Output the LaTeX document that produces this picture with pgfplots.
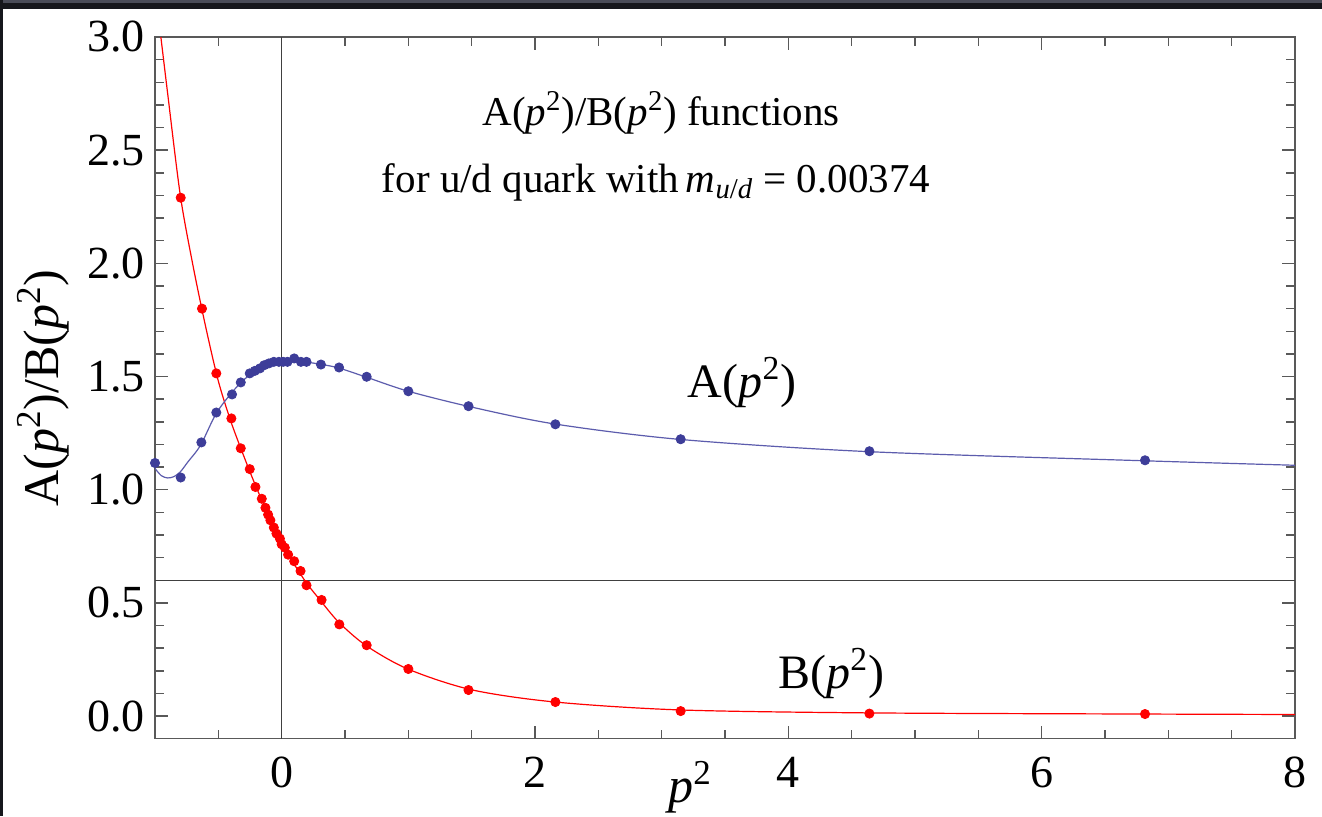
\documentclass[border=0pt]{standalone}
\usepackage{pgfplots}
\pgfplotsset{compat=1.18}
\usepackage{fontspec}
\setmainfont{Liberation Serif}
\newfontfamily\tnr{Liberation Serif}
\definecolor{mblue}{rgb}{0.24,0.24,0.6}
\definecolor{mline}{rgb}{0.36,0.36,0.68}
\definecolor{mframe}{gray}{0.35}
\definecolor{topdark}{HTML}{16171C}
\definecolor{toplight}{HTML}{4A4C58}
\newcommand{\psq}{\textit{p}\textsuperscript{2}}
\begin{document}
\begin{tikzpicture}
\useasboundingbox (0pt,0pt) rectangle (661pt,408pt);
\fill[white] (0pt,0pt) rectangle (661pt,408pt);
\fill[topdark] (0pt,403.5pt) rectangle (661pt,408pt);
\fill[toplight] (0pt,406.5pt) rectangle (661pt,408pt);
\fill[topdark] (0pt,0pt) rectangle (1.5pt,408pt);
\begin{axis}[
  at={(77.5pt,38.65pt)}, anchor=south west,
  scale only axis, width=570pt, height=350.85pt,
  xmin=-1, xmax=8, ymin=-0.1, ymax=3.0,
  axis line style={mframe, line width=0.7pt},
  tick style={mframe, line width=0.7pt},
  tick align=inside,
  major tick length=6.5pt, minor tick length=4.5pt,
  xtick={0,2,4,6,8},
  minor xtick={-0.5,0.5,1,1.5,2.5,3,3.5,4.5,5,5.5,6.5,7,7.5},
  ytick={0,0.5,1,1.5,2,2.5,3},
  minor ytick={0.1,0.2,0.3,0.4,0.6,0.7,0.8,0.9,1.1,1.2,1.3,1.4,1.6,1.7,1.8,1.9,2.1,2.2,2.3,2.4,2.6,2.7,2.8,2.9},
  /pgf/number format/assume math mode=true,
  yticklabel style={/pgf/number format/fixed, /pgf/number format/fixed zerofill, /pgf/number format/precision=1, xshift=-5pt},
  ticklabel style={font=\tnr\fontsize{23}{27}\selectfont, inner sep=0pt},
  xticklabel style={yshift=-9pt},
  clip=true,
]
\draw[black!75, line width=0.6pt] (axis cs:0,-0.1) -- (axis cs:0,3.0);
\draw[black!75, line width=0.6pt] (axis cs:-1,0.6) -- (axis cs:8,0.6);

% B curve
\addplot[red, line width=0.6pt, smooth, no markers] coordinates {
(-0.96,3.03) (-0.9,2.75) (-0.8,2.30) (-0.7,1.99) (-0.6,1.72) (-0.5,1.48)
(-0.4,1.30) (-0.3,1.15) (-0.2,1.01) (-0.1,0.885) (0,0.765) (0.1,0.67)
(0.2,0.585) (0.3,0.515) (0.45,0.415) (0.67,0.31) (1.0,0.207) (1.5,0.116)
(2.16,0.062) (3.15,0.027) (4.64,0.014) (6.8,0.009) (8,0.007)};
% A curve
\addplot[mline, line width=0.6pt, smooth, no markers] coordinates {
(-1,1.094) (-0.95,1.062) (-0.9,1.052) (-0.85,1.058) (-0.8,1.079) (-0.74,1.123)
(-0.64,1.197) (-0.52,1.334) (-0.4,1.425) (-0.3,1.485) (-0.2,1.527) (-0.1,1.553)
(0,1.565) (0.1,1.567) (0.2,1.563) (0.3,1.555) (0.45,1.538) (0.67,1.497)
(1.0,1.435) (1.5,1.365) (2.16,1.29) (3.15,1.222) (4.64,1.168) (6.8,1.128) (8,1.108)};
% B points
\addplot[red, only marks, mark=*, mark size=2.3pt, mark options={draw=red, fill=red}] coordinates {
(-0.797,2.29) (-0.629,1.80) (-0.516,1.514) (-0.397,1.315) (-0.323,1.183) (-0.252,1.091)
(-0.207,1.012) (-0.157,0.960) (-0.128,0.920) (-0.107,0.890) (-0.089,0.865) (-0.062,0.833)
(-0.041,0.806) (-0.014,0.784) (0.0,0.759) (0.025,0.744) (0.051,0.713) (0.099,0.684)
(0.149,0.641) (0.196,0.578) (0.315,0.513) (0.455,0.405) (0.671,0.313) (1.0,0.208)
(1.475,0.115) (2.161,0.062) (3.15,0.022) (4.64,0.011) (6.816,0.009)};
% A points
\addplot[mblue, only marks, mark=*, mark size=2.3pt, mark options={draw=mblue, fill=mblue}] coordinates {
(-1.0,1.118) (-0.797,1.054) (-0.634,1.209) (-0.516,1.341) (-0.392,1.421) (-0.323,1.474)
(-0.252,1.514) (-0.212,1.525) (-0.172,1.536) (-0.138,1.550) (-0.101,1.558) (-0.062,1.565)
(-0.022,1.565) (0.012,1.565) (0.046,1.565) (0.099,1.580) (0.152,1.565) (0.196,1.565)
(0.310,1.553) (0.453,1.540) (0.671,1.499) (1.0,1.435) (1.475,1.369) (2.161,1.289)
(3.15,1.223) (4.64,1.170) (6.816,1.130)};

\node[anchor=base, inner sep=0pt, font=\tnr\fontsize{20.5}{24}\selectfont] at (axis cs:2.996,2.609)
  {A(\psq)/B(\psq) functions};
\node[anchor=base, inner sep=0pt, font=\tnr\fontsize{20.5}{24}\selectfont] at (axis cs:2.956,2.313)
  {for u/d quark with\,\textit{m}\textsubscript{\textit{u}/\textit{d}} = 0.00374};
\node[anchor=base, inner sep=0pt, font=\tnr\fontsize{24}{28}\selectfont] at (axis cs:3.635,1.408) {A(\psq)};
\node[anchor=base, inner sep=0pt, font=\tnr\fontsize{24}{28}\selectfont] at (axis cs:4.338,0.121) {B(\psq)};
\end{axis}
\node[anchor=north, inner sep=0pt, font=\tnr\fontsize{25}{29}\selectfont] at (345pt,27.5pt) {\psq};
\node[rotate=90, anchor=center, inner sep=0pt, font=\tnr\fontsize{25}{29}\selectfont] at (21.5pt,214pt) {A(\psq)/B(\psq)};
\end{tikzpicture}
\end{document}
